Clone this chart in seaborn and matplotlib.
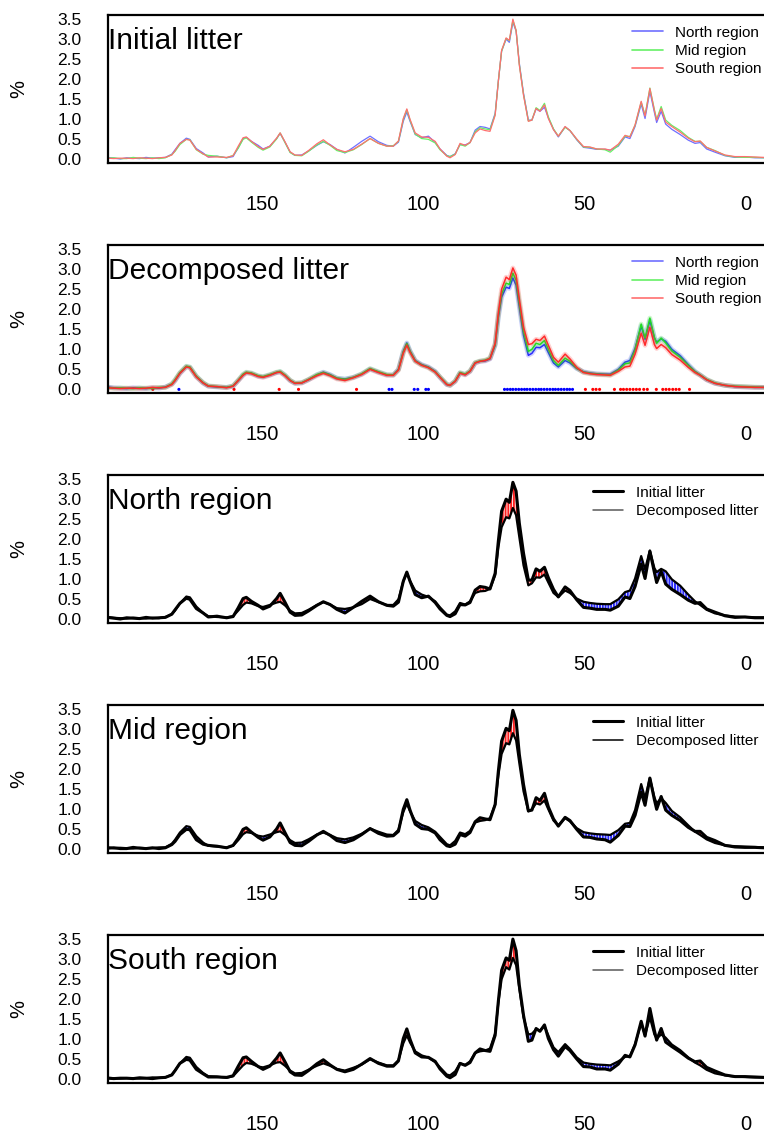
import numpy as np
import pandas as pd
import matplotlib
matplotlib.use("Agg")
import matplotlib.pyplot as plt
import seaborn as sns
from matplotlib.lines import Line2D

# ---------------- data (chemical shift, ppm) ----------------
ppm = [198, 196, 194, 192, 190, 188, 186, 184, 182, 180, 178, 177, 175.5, 173.5, 172.4,
       170.4, 168.3, 166.7, 164, 161, 159, 157.4, 155.9, 154.9, 153.3, 151.2, 149.7, 147.6,
       145.5, 144.4, 142.9, 141.3, 139.8, 137.7, 135.6, 133, 131, 128.9, 126.8, 124.3, 121.7,
       119.1, 116.5, 113.9, 111.3, 109.3, 107.7, 106.2, 105.1, 104.1, 102.5, 100.5, 98.4,
       96.3, 94.8, 92.7, 91.7, 90.1, 88.6, 87, 85.5, 83.9, 82.4, 80.8, 79.3, 77.7, 76.7,
       75.7, 74.3, 73.3, 72.2, 71.2, 70.2, 68.9, 67.4, 66.3, 65, 63.8, 62.4, 61.2, 59.6,
       58.1, 56, 54.5, 52.4, 50.3, 48.3, 46.2, 43.6, 42, 39.5, 37.4, 35.9, 34.3, 32.4,
       31.2, 29.7, 28.3, 27.6, 26.2, 24.8, 22.9, 20.3, 17.8, 15.7, 14.1, 12.1, 9.5, 6.4,
       3.3, 0.2, -2.9, -5.7]

init_north = [.05, .03, .01, .04, .03, .02, .05, .03, .04, .05, .13, .24, .40, .53, .50,
              .27, .16, .06, .08, .04, .07, .29, .52, .55, .45, .35, .26, .33,
              .52, .65, .43, .18, .10, .11, .21, .35, .44, .37, .25, .16, .30,
              .45, .58, .44, .35, .33, .43, .95, 1.18, .95, .62, .54, .58,
              .42, .26, .10, .07, .14, .37, .36, .42, .73, .82, .80, .76, 1.15, 1.96,
              2.70, 3.00, 2.92, 3.42, 3.20, 2.40, 1.65, .98, .98, 1.26, 1.20, 1.30, 1.04, .75,
              .56, .81, .72, .49, .30, .28, .25, .25, .23, .33, .56, .52, .82, 1.38,
              1.02, 1.70, 1.17, .92, 1.20, .88, .75, .62, .48, .40, .42, .26, .18, .09,
              .05, .06, .04, .04]
init_mid = [.03, .04, .02, .02, .05, .03, .02, .04, .02, .04, .12, .20, .37, .50, .49,
            .24, .13, .10, .08, .04, .10, .28, .50, .54, .43, .30, .23, .31,
            .51, .66, .42, .17, .10, .09, .20, .36, .45, .35, .22, .17, .24,
            .37, .52, .40, .33, .34, .45, 1.00, 1.24, .98, .63, .52, .50,
            .41, .24, .09, .07, .13, .37, .33, .42, .69, .79, .76, .74, 1.12, 1.96,
            2.70, 3.02, 2.96, 3.47, 3.22, 2.37, 1.62, .96, .98, 1.29, 1.22, 1.40, 1.06, .76,
            .58, .80, .72, .50, .31, .30, .26, .24, .18, .35, .58, .57, .85, 1.43,
            1.10, 1.78, 1.24, 1.00, 1.32, .98, .85, .72, .55, .45, .45, .30, .22, .10,
            .06, .05, .05, .04]
init_south = [.03, .02, .03, .03, .02, .04, .03, .02, .04, .05, .11, .22, .40, .50, .48,
              .25, .14, .06, .06, .05, .09, .33, .54, .56, .45, .32, .25, .33,
              .53, .66, .44, .19, .11, .10, .22, .39, .49, .36, .25, .19, .25,
              .38, .52, .40, .33, .33, .46, 1.02, 1.26, 1.00, .66, .56, .55,
              .45, .26, .08, .04, .12, .40, .35, .42, .66, .76, .72, .70, 1.10, 1.96,
              2.72, 3.03, 2.97, 3.50, 3.21, 2.35, 1.60, .95, .98, 1.27, 1.20, 1.36, 1.02, .74,
              .58, .82, .72, .51, .32, .31, .26, .26, .23, .38, .60, .56, .86, 1.45,
              1.08, 1.77, 1.22, .98, 1.27, .93, .82, .68, .53, .44, .46, .30, .21, .11,
              .07, .07, .06, .05]

dec_north = [.06, .04, .03, .02, .04, .03, .02, .04, .03, .06, .13, .22, .40, .57, .55,
             .32, .16, .08, .06, .05, .08, .22, .36, .42, .40, .33, .31, .36,
             .42, .44, .35, .22, .15, .16, .24, .36, .43, .37, .28, .26, .30,
             .38, .51, .43, .36, .36, .50, .95, 1.16, .96, .72, .62, .56,
             .45, .30, .12, .10, .20, .41, .37, .45, .66, .70, .71, .76, 1.10, 1.80,
             2.30, 2.55, 2.52, 2.78, 2.60, 2.05, 1.35, .85, .90, 1.05, 1.04, 1.12, .92, .66,
             .56, .72, .66, .52, .44, .41, .39, .38, .38, .50, .68, .72, 1.02, 1.58,
             1.25, 1.72, 1.28, 1.18, 1.26, 1.20, 1.00, .84, .62, .45, .36, .24, .15, .10,
             .07, .06, .05, .05]
dec_mid = [.05, .03, .04, .03, .02, .04, .03, .03, .05, .05, .14, .24, .42, .58, .56,
           .33, .17, .09, .07, .05, .09, .23, .38, .43, .41, .34, .32, .37,
           .43, .45, .36, .23, .16, .17, .25, .37, .42, .36, .28, .25, .30,
           .39, .52, .44, .37, .36, .49, .93, 1.14, .95, .71, .61, .55,
           .44, .31, .13, .10, .21, .42, .38, .46, .67, .71, .73, .78, 1.12, 1.85,
           2.38, 2.65, 2.62, 2.90, 2.72, 2.15, 1.45, .95, 1.00, 1.15, 1.12, 1.22, 1.00, .72,
           .60, .78, .70, .53, .43, .40, .38, .37, .36, .48, .64, .66, .98, 1.63,
           1.28, 1.78, 1.30, 1.15, 1.28, 1.16, .96, .80, .60, .44, .36, .25, .16, .10,
           .08, .07, .06, .05]
dec_south = [.04, .03, .02, .03, .03, .02, .03, .05, .04, .05, .12, .22, .40, .56, .54,
             .31, .16, .08, .07, .04, .08, .22, .35, .41, .39, .32, .30, .35,
             .42, .43, .34, .22, .15, .16, .24, .34, .40, .34, .26, .22, .29,
             .37, .50, .42, .35, .35, .48, .90, 1.10, .92, .70, .60, .54,
             .43, .30, .12, .10, .20, .40, .36, .45, .66, .70, .72, .77, 1.15, 1.92,
             2.50, 2.80, 2.74, 3.03, 2.85, 2.25, 1.55, 1.12, 1.14, 1.25, 1.22, 1.33, 1.10, .80,
             .68, .88, .76, .55, .42, .39, .37, .36, .35, .45, .56, .58, .88, 1.40,
             1.10, 1.55, 1.12, 1.02, 1.12, 1.04, .87, .73, .55, .42, .35, .24, .15, .10,
             .07, .06, .05, .05]

# significant-difference markers (ppm)
sig_blue = [175.8, 110.6, 109.7, 102.8, 101.7, 99.2, 98.4,
            74.8, 73.9, 73.0, 72.2, 71.3, 70.4, 69.5, 68.6, 67.8, 66.9, 66.0, 65.1, 64.2,
            63.4, 62.5, 61.6, 60.7, 59.8, 59.0, 58.1, 57.2, 56.3, 55.4, 54.6, 53.7]
sig_red = [183.9, 158.7, 144.7, 138.7, 120.7, 49.7, 47.4, 46.4, 45.3, 40.7, 38.8, 37.9,
           36.9, 35.9, 34.9, 33.9, 32.9, 31.6, 30.5, 27.7, 25.7, 24.7, 23.7, 22.6, 21.6,
           20.6, 17.4]

regions = ["North region", "Mid region", "South region"]
x_ticks = [150, 100, 50, 0]
y_ticks = [0.0, 0.5, 1.0, 1.5, 2.0, 2.5, 3.0, 3.5]

# ---------------- styling ----------------
sns.set_style("white")
plt.rcParams["font.family"] = ["Liberation Sans", "DejaVu Sans"]
plt.rcParams["hatch.linewidth"] = 0.6
for k in ["text.color", "axes.labelcolor", "xtick.color", "ytick.color"]:
    plt.rcParams[k] = "black"

W, H = 764, 1136
fig = plt.figure(figsize=(W / 100, H / 100), dpi=100)

left_px, right_px = 108, 764
top0, bot0, step = 14.7, 163.0, 230.0

def style_ax(ax):
    ax.set_xlim(197.8, -5.7)
    ax.set_ylim(-0.09, 3.61)
    ax.set_xticks(x_ticks)
    ax.set_xticklabels([str(t) for t in x_ticks])
    ax.set_yticks(y_ticks)
    ax.set_yticklabels([f"{t:.1f}" for t in y_ticks])
    ax.tick_params(axis="x", direction="in", length=3, width=1.2, pad=23, labelsize=14.5)
    ax.tick_params(axis="y", direction="in", length=2, width=1.2, pad=19, labelsize=12.5)
    for s in ["top", "left", "bottom"]:
        ax.spines[s].set_visible(True)
        ax.spines[s].set_linewidth(1.6)
        ax.spines[s].set_color("black")
    ax.spines["right"].set_visible(False)
    ax.set_xlabel("")
    ax.set_ylabel("%", fontsize=14.5)
    ax.yaxis.set_label_coords(-0.122, 0.5)
    ax.grid(False)

def make_ax(i):
    top = top0 + step * i
    bot = bot0 + step * i
    return fig.add_axes([left_px / W, 1 - bot / H, (right_px - left_px) / W, (bot - top) / H])

def title(ax, txt):
    ax.text(0.0, 0.915, txt, transform=ax.transAxes, ha="left", va="top", fontsize=21.5)

ppm_arr = np.array(ppm)
init_all = [np.array(init_north), np.array(init_mid), np.array(init_south)]
dec_all = [np.array(dec_north), np.array(dec_mid), np.array(dec_south)]

leg_kw = dict(loc="upper left", frameon=False, fontsize=11, handlelength=2.0,
              handletextpad=0.8, labelspacing=0.27, borderpad=0, borderaxespad=0)

# ---------- Panel 1: initial litter ----------
ax = make_ax(0)
cols1 = ["#6f6fff", "#66f066", "#ff6f6f"]
for r, y, c in zip(regions, init_all, cols1):
    df = pd.DataFrame({"ppm": ppm_arr, "val": y})
    sns.lineplot(data=df, x="ppm", y="val", ax=ax, color=c, lw=0.9, legend=False)
style_ax(ax)
title(ax, "Initial litter")
handles = [Line2D([], [], color=c, lw=1.2) for c in cols1]
ax.legend(handles, regions, bbox_to_anchor=(0.799, 0.925), **leg_kw)

# ---------- Panel 2: decomposed litter ----------
ax = make_ax(1)
cols2 = ["#2a2aff", "#22dd22", "#ff2a2a"]
for r, y, c in zip(regions, dec_all, cols2):
    df = pd.DataFrame({"ppm": ppm_arr, "val": y})
    sns.lineplot(data=df, x="ppm", y="val", ax=ax, color=c, lw=3.4, alpha=0.22, legend=False)
    sns.lineplot(data=df, x="ppm", y="val", ax=ax, color=c, lw=1.1, legend=False)
dots = pd.DataFrame({"ppm": sig_blue + sig_red,
                     "val": [0.0] * (len(sig_blue) + len(sig_red)),
                     "grp": ["b"] * len(sig_blue) + ["r"] * len(sig_red)})
sns.scatterplot(data=dots, x="ppm", y="val", hue="grp", palette={"b": "#0000ff", "r": "#ff0000"},
                s=5, linewidth=0, ax=ax, legend=False)
style_ax(ax)
title(ax, "Decomposed litter")
handles = [Line2D([], [], color=c, lw=1.2) for c in cols1]
ax.legend(handles, regions, bbox_to_anchor=(0.799, 0.925), **leg_kw)

# ---------- Panels 3-5: initial vs decomposed per region ----------
dec_colors = ["0.35", "black", "0.35"]
for i, (r, yi, yd, dc) in enumerate(zip(regions, init_all, dec_all, dec_colors)):
    ax = make_ax(2 + i)
    ax.fill_between(ppm_arr, yi, yd, where=yi >= yd, interpolate=True, facecolor="#ff2020",
                    edgecolor="white", hatch="||||||", linewidth=0, zorder=1)
    ax.fill_between(ppm_arr, yi, yd, where=yi < yd, interpolate=True, facecolor="#2a2aff",
                    edgecolor="white", hatch="||||||", linewidth=0, zorder=1)
    dfi = pd.DataFrame({"ppm": ppm_arr, "val": yi})
    dfd = pd.DataFrame({"ppm": ppm_arr, "val": yd})
    sns.lineplot(data=dfd, x="ppm", y="val", ax=ax, color="black", lw=1.6, legend=False, zorder=2)
    sns.lineplot(data=dfi, x="ppm", y="val", ax=ax, color="black", lw=2.2, legend=False, zorder=3)
    style_ax(ax)
    title(ax, r)
    handles = [Line2D([], [], color="black", lw=2.2), Line2D([], [], color=dc, lw=1.1)]
    ax.legend(handles, ["Initial litter", "Decomposed litter"],
              bbox_to_anchor=(0.739, 0.925), **leg_kw)

fig.savefig("out.png", dpi=100)
